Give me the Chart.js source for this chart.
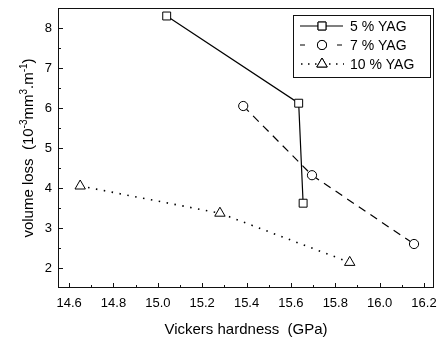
<!DOCTYPE html>
<html lang="en">
<head>
<meta charset="UTF-8">
<title>Volume loss vs Vickers hardness</title>
<script src="https://cdn.jsdelivr.net/npm/chart.js"></script>
<style>
    body { margin: 0; background: #fff; }
    #box { width: 437px; height: 338px; }
</style>
</head>
<body>
<div id="box">
    <canvas id="myChart" width="437" height="338"></canvas>
</div>
<script>
    // data
    const seriesNames = ['5 % YAG', '7 % YAG', '10 % YAG'];
    const hardness5 = [15.04, 15.635, 15.655];
    const loss5 = [8.30, 6.12, 3.62];
    const hardness7 = [15.385, 15.695, 16.155];
    const loss7 = [6.05, 4.32, 2.60];
    const hardness10 = [14.65, 15.28, 15.865];
    const loss10 = [4.05, 3.37, 2.14];
    const xTicks = [14.6, 14.8, 15.0, 15.2, 15.4, 15.6, 15.8, 16.0, 16.2];
    const yTicks = [2, 3, 4, 5, 6, 7, 8];

    const FONT = '"Liberation Sans", Arial, sans-serif';

    const toPoints = (xs, ys) => xs.map((x, i) => ({x: x, y: ys[i]}));

    const styles = [
        {pointStyle: 'rect', pointRadius: 5.6, borderDash: [], borderWidth: 1.2},
        {pointStyle: 'circle', pointRadius: 4.6, borderDash: [8, 6], borderWidth: 1.2},
        {pointStyle: 'triangle', pointRadius: 6, borderDash: [1.5, 6.5], borderWidth: 1.6}
    ];

    const datasets = [
        toPoints(hardness5, loss5),
        toPoints(hardness7, loss7),
        toPoints(hardness10, loss10)
    ].map((pts, i) => ({
        label: seriesNames[i],
        data: pts,
        showLine: true,
        borderColor: '#000',
        borderWidth: styles[i].borderWidth,
        borderDash: styles[i].borderDash,
        pointStyle: styles[i].pointStyle,
        pointRadius: styles[i].pointRadius,
        pointBorderWidth: 1,
        pointBorderColor: '#000',
        pointBackgroundColor: '#fff',
        tension: 0
    }));

    // frame, inward ticks, axis titles and legend
    const framePlugin = {
        id: 'frame',
        afterDraw(chart) {
            const ctx = chart.ctx;
            const a = chart.chartArea;
            const xs = chart.scales.x, ys = chart.scales.y;
            ctx.save();
            ctx.strokeStyle = '#111';
            ctx.lineWidth = 1;
            ctx.setLineDash([]);
            ctx.strokeRect(Math.round(a.left) + 0.5, Math.round(a.top) + 0.5,
                Math.round(a.right - a.left) - 1, Math.round(a.bottom - a.top) - 1);

            ctx.beginPath();
            xTicks.forEach((v, i) => {
                const px = Math.round(xs.getPixelForValue(v)) + 0.5;
                ctx.moveTo(px, a.bottom); ctx.lineTo(px, a.bottom - 5);
                if (i < xTicks.length - 1) {
                    const m = Math.round(xs.getPixelForValue((v + xTicks[i + 1]) / 2)) + 0.5;
                    ctx.moveTo(m, a.bottom); ctx.lineTo(m, a.bottom - 3);
                }
            });
            yTicks.forEach((v, i) => {
                const py = Math.round(ys.getPixelForValue(v)) + 0.5;
                ctx.moveTo(a.left, py); ctx.lineTo(a.left + 5, py);
                if (i < yTicks.length - 1) {
                    const m = Math.round(ys.getPixelForValue((v + yTicks[i + 1]) / 2)) + 0.5;
                    ctx.moveTo(a.left, m); ctx.lineTo(a.left + 3, m);
                }
            });
            ctx.stroke();

            // x title
            ctx.fillStyle = '#000';
            ctx.font = '15px ' + FONT;
            ctx.textAlign = 'center';
            ctx.textBaseline = 'alphabetic';
            ctx.fillText('Vickers hardness  (GPa)', (a.left + a.right) / 2, 334);

            // y title with superscripts
            const parts = [
                ['volume loss  (10', false], ['-3', true], ['mm', false], ['3', true],
                ['.m', false], ['-1', true], [')', false]
            ];
            const big = '15px ' + FONT, small = '10px ' + FONT;
            let total = 0;
            parts.forEach(p => { ctx.font = p[1] ? small : big; total += ctx.measureText(p[0]).width; });
            ctx.translate(33, (a.top + a.bottom) / 2);
            ctx.rotate(-Math.PI / 2);
            ctx.textAlign = 'left';
            let cx = -total / 2;
            parts.forEach(p => {
                ctx.font = p[1] ? small : big;
                ctx.fillText(p[0], cx, p[1] ? -6 : 0);
                cx += ctx.measureText(p[0]).width;
            });
            ctx.restore();

            // legend
            ctx.save();
            ctx.strokeStyle = '#111';
            ctx.lineWidth = 1;
            ctx.strokeRect(293.5, 15.5, 137, 62);
            const rows = [26, 45, 64];
            chart.data.datasets.forEach((ds, i) => {
                const y = rows[i];
                ctx.strokeStyle = '#000';
                ctx.lineWidth = ds.borderWidth;
                ctx.setLineDash(ds.borderDash);
                ctx.beginPath();
                if (i === 1) {
                    ctx.moveTo(300, y); ctx.lineTo(305, y);
                    ctx.moveTo(337, y); ctx.lineTo(342, y);
                } else if (i === 2) {
                    ctx.setLineDash([1.5, 5.5]);
                    ctx.moveTo(301, y); ctx.lineTo(344, y);
                } else {
                    ctx.moveTo(300, y); ctx.lineTo(343, y);
                }
                ctx.stroke();
                ctx.setLineDash([]);
                ctx.lineWidth = 1;
                ctx.fillStyle = '#fff';
                Chart.helpers.drawPoint(ctx, {
                    pointStyle: ds.pointStyle, radius: ds.pointRadius, rotation: 0, borderWidth: 1
                }, 322, y);
                ctx.fill();
                ctx.stroke();
                ctx.fillStyle = '#000';
                ctx.font = '14px ' + FONT;
                ctx.textAlign = 'left';
                ctx.textBaseline = 'middle';
                ctx.fillText(ds.label, 350, y + 1);
            });
            ctx.restore();
        }
    };

    new Chart(document.getElementById('myChart'), {
        type: 'scatter',
        data: {datasets: datasets},
        options: {
            responsive: false,
            animation: false,
            devicePixelRatio: 1,
            layout: {autoPadding: false, padding: {top: 8, right: 3, left: 0, bottom: 0}},
            plugins: {legend: {display: false}, tooltip: {enabled: false}},
            scales: {
                x: {
                    type: 'linear',
                    min: 14.55,
                    max: 16.245,
                    grid: {display: false, drawTicks: false},
                    border: {display: false},
                    afterFit: s => { s.height = 50; s.paddingLeft = 0; s.paddingRight = 0; },
                    afterBuildTicks: s => { s.ticks = xTicks.map(v => ({value: v})); },
                    ticks: {
                        color: '#000',
                        padding: 8,
                        maxRotation: 0,
                        font: {family: FONT, size: 13},
                        callback: v => v.toFixed(1)
                    }
                },
                y: {
                    type: 'linear',
                    min: 1.5,
                    max: 8.5,
                    grid: {display: false, drawTicks: false},
                    border: {display: false},
                    afterFit: s => { s.width = 58; s.paddingTop = 0; s.paddingBottom = 0; },
                    afterBuildTicks: s => { s.ticks = yTicks.map(v => ({value: v})); },
                    ticks: {
                        color: '#000',
                        padding: 6,
                        font: {family: FONT, size: 13},
                        callback: v => String(v)
                    }
                }
            }
        },
        plugins: [framePlugin]
    });
</script>
</body>
</html>
